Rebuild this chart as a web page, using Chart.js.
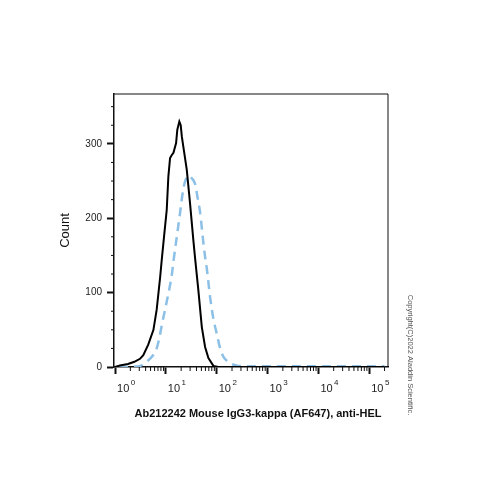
<!DOCTYPE html>
<html>
<head>
<meta charset="utf-8">
<script src="https://cdn.jsdelivr.net/npm/chart.js@4.4.0/dist/chart.umd.min.js"></script>
<style>
  html, body { margin: 0; padding: 0; background: #fff; }
</style>
</head>
<body>
<canvas id="histChart" width="500" height="500"></canvas>
<script>
// sample (black, solid) - fluorescence on log axis vs count
const blackX = [1.0, 1.25, 1.8, 2.4, 3.1, 3.6, 4.5, 5.7, 6.6, 7.7, 8.3, 9.2, 10.4, 11.2, 12.1, 13.1, 14.1, 15.9, 16.8, 18.4, 19.6, 20.6, 22.1, 25.8, 29.9, 34.8, 37.6, 43.6, 50.9, 59.1, 68.7, 86.1, 107, 200000];
const blackY = [0, 2, 4, 7, 11, 16, 30, 50, 77, 120, 144, 175, 211, 256, 281, 285, 288, 301, 319, 330, 325, 310, 296, 265, 220, 170, 146, 103, 54, 27, 12, 1.5, 0, 0];

// isotype control (blue, dashed)
const blueX = [1.2, 2.0, 3.1, 4.5, 5.5, 6.6, 7.5, 8.3, 9.3, 10.4, 11.7, 13.1, 14.1, 16.4, 19.0, 22.1, 25.0, 27.7, 31.0, 37.6, 42.0, 47.1, 54.7, 59.1, 64.0, 74.1, 86.0, 100, 117, 135, 160, 183, 268, 500, 200000];
const blueY = [0, 0.5, 1.5, 9, 15, 25, 40, 56, 72, 88, 105, 124, 142, 175, 207, 240, 253, 257, 255, 246, 228, 208, 167, 148, 132, 94, 65, 45, 25, 14, 8, 5, 1.5, 1, 1];

const xMajor = [1, 10, 100, 1000, 10000, 100000];
const xExp = ['0', '1', '2', '3', '4', '5'];
const yMajor = [0, 100, 200, 300];
const yMinorStep = 25;

const xTitle = 'Ab212242 Mouse IgG3-kappa (AF647), anti-HEL';
const copyright = 'Copyright(C)2022 Aladdin Scientific.';

// frame, minor ticks, power-of-ten labels, x title and the copyright note
const extras = {
  id: 'extras',
  afterDraw(chart) {
    const { ctx, chartArea: a, scales: { x, y } } = chart;
    ctx.save();
    ctx.strokeStyle = '#111';
    ctx.lineWidth = 1;
    ctx.beginPath();
    ctx.moveTo(a.left, a.top);
    ctx.lineTo(a.right, a.top);
    ctx.lineTo(a.right, a.bottom);
    ctx.stroke();

    ctx.beginPath();
    for (let d = 1; d <= 100000; d *= 10) {
      for (let m = 2; m <= 9; m++) {
        const v = d * m;
        if (v > x.max) break;
        const px = x.getPixelForValue(v);
        ctx.moveTo(px, a.bottom);
        ctx.lineTo(px, a.bottom + 4);
      }
    }
    for (let v = yMinorStep; v <= y.max; v += yMinorStep) {
      if (v % 100 === 0) continue;
      const py = y.getPixelForValue(v);
      ctx.moveTo(a.left, py);
      ctx.lineTo(a.left - 3, py);
    }
    ctx.stroke();

    // 10^n labels
    ctx.fillStyle = '#222';
    ctx.textAlign = 'left';
    ctx.textBaseline = 'alphabetic';
    xMajor.forEach((v, i) => {
      const px = x.getPixelForValue(v) + 2;
      ctx.font = '11px "Liberation Sans"';
      ctx.fillText('10', px, a.bottom + 25);
      const w = ctx.measureText('10').width;
      ctx.font = '8px "Liberation Sans"';
      ctx.fillText(xExp[i], px + w + 1.5, a.bottom + 18);
    });

    // x axis title
    ctx.fillStyle = '#111';
    ctx.textAlign = 'center';
    ctx.textBaseline = 'middle';
    ctx.font = 'bold 11px "Liberation Sans"';
    ctx.fillText(xTitle, (a.left + a.right) / 2 + 7, a.bottom + 47);

    ctx.translate(410, 355);
    ctx.rotate(Math.PI / 2);
    ctx.fillStyle = '#555';
    ctx.font = '7.5px "Liberation Sans"';
    ctx.fillText(copyright, 0, 0);
    ctx.restore();
  }
};

const ctx = document.getElementById('histChart').getContext('2d');
let histChart = new Chart(ctx, {
  type: 'line',
  data: {
    datasets: [{
      label: 'Ab212242',
      data: blackX.map((v, i) => ({ x: v, y: blackY[i] })),
      borderColor: '#000',
      borderWidth: 2,
      pointRadius: 0,
      tension: 0
    }, {
      label: 'Isotype',
      data: blueX.map((v, i) => ({ x: v, y: blueY[i] })),
      borderColor: '#8cc0e6',
      borderWidth: 2.5,
      borderDash: [9, 6],
      pointRadius: 0,
      cubicInterpolationMode: 'monotone'
    }]
  },
  options: {
    responsive: false,
    animation: false,
    layout: { padding: { top: 94, right: 112, left: 0, bottom: 0 } },
    plugins: {
      legend: { display: false },
      tooltip: { enabled: false }
    },
    scales: {
      x: {
        type: 'logarithmic',
        min: 0.955,
        max: 234000,
        afterBuildTicks: s => { s.ticks = xMajor.map(v => ({ value: v })); },
        afterFit: s => { s.height = 133; },
        border: { color: '#111', width: 1.5 },
        grid: { drawOnChartArea: false, tickLength: 7, tickWidth: 2, tickColor: '#111' },
        ticks: { display: false }
      },
      y: {
        min: 0,
        max: 367,
        afterBuildTicks: s => { s.ticks = yMajor.map(v => ({ value: v })); },
        afterFit: s => { s.width = 114; },
        border: { color: '#111', width: 1.5 },
        grid: { drawOnChartArea: false, tickLength: 7, tickWidth: 2, tickColor: '#111' },
        ticks: {
          padding: 5,
          color: '#222',
          font: { family: 'Liberation Sans', size: 10 }
        },
        title: {
          display: true,
          text: 'Count',
          color: '#111',
          font: { family: 'Liberation Sans', size: 13 },
          padding: { top: 58, bottom: 0 }
        }
      }
    }
  },
  plugins: [extras]
});
</script>
</body>
</html>
